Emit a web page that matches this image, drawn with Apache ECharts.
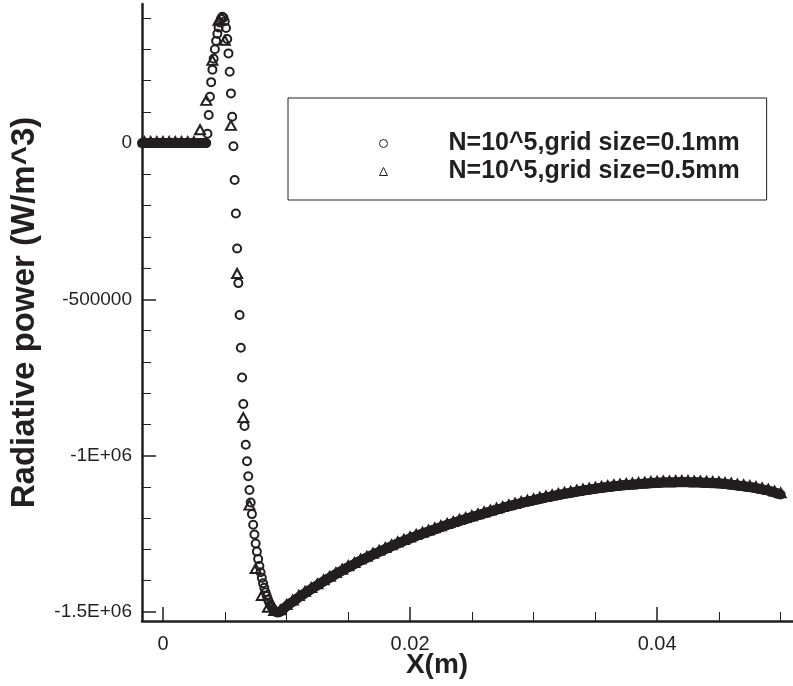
<!DOCTYPE html>
<html>
<head>
<meta charset="utf-8">
<script src="https://cdn.jsdelivr.net/npm/echarts@6/dist/echarts.min.js"></script>
<style>
html,body{margin:0;padding:0;background:#fff;}
#chart{width:793px;height:686px;}
</style>
</head>
<body>
<div id="chart"></div>
<script>
// Series 1: N=10^5, grid size = 0.1 mm  (x in m, value in W/m^3)
const xCircle = [
-17e-4,-16e-4,-15e-4,-14e-4,-13e-4,-12e-4,-11e-4,-10e-4,-9e-4,-8e-4,-7e-4,-6e-4,-5e-4,-4e-4,-3e-4,-2e-4,-1e-4,0,
1e-4,2e-4,3e-4,4e-4,5e-4,6e-4,7e-4,8e-4,9e-4,10e-4,
11e-4,12e-4,13e-4,14e-4,15e-4,16e-4,17e-4,18e-4,19e-4,20e-4,
21e-4,22e-4,23e-4,24e-4,25e-4,26e-4,27e-4,28e-4,29e-4,30e-4,
31e-4,32e-4,33e-4,34e-4,35e-4,36e-4,37e-4,38e-4,39e-4,40e-4,
41e-4,42e-4,43e-4,44e-4,45e-4,46e-4,47e-4,48e-4,49e-4,50e-4,
51e-4,52e-4,53e-4,54e-4,55e-4,56e-4,57e-4,58e-4,59e-4,60e-4,
61e-4,62e-4,63e-4,64e-4,65e-4,66e-4,67e-4,68e-4,69e-4,70e-4,
71e-4,72e-4,73e-4,74e-4,75e-4,76e-4,77e-4,78e-4,79e-4,80e-4,
81e-4,82e-4,83e-4,84e-4,85e-4,86e-4,87e-4,88e-4,89e-4,90e-4,
91e-4,92e-4,93e-4,94e-4,95e-4,96e-4,97e-4,98e-4,99e-4,100e-4,
101e-4,102e-4,103e-4,104e-4,105e-4,106e-4,107e-4,108e-4,109e-4,110e-4,
111e-4,112e-4,113e-4,114e-4,115e-4,116e-4,117e-4,118e-4,119e-4,120e-4,
121e-4,122e-4,123e-4,124e-4,125e-4,126e-4,127e-4,128e-4,129e-4,130e-4,
131e-4,132e-4,133e-4,134e-4,135e-4,136e-4,137e-4,138e-4,139e-4,140e-4,
141e-4,142e-4,143e-4,144e-4,145e-4,146e-4,147e-4,148e-4,149e-4,150e-4,
151e-4,152e-4,153e-4,154e-4,155e-4,156e-4,157e-4,158e-4,159e-4,160e-4,
161e-4,162e-4,163e-4,164e-4,165e-4,166e-4,167e-4,168e-4,169e-4,170e-4,
171e-4,172e-4,173e-4,174e-4,175e-4,176e-4,177e-4,178e-4,179e-4,180e-4,
181e-4,182e-4,183e-4,184e-4,185e-4,186e-4,187e-4,188e-4,189e-4,190e-4,
191e-4,192e-4,193e-4,194e-4,195e-4,196e-4,197e-4,198e-4,199e-4,200e-4,
201e-4,202e-4,203e-4,204e-4,205e-4,206e-4,207e-4,208e-4,209e-4,210e-4,
211e-4,212e-4,213e-4,214e-4,215e-4,216e-4,217e-4,218e-4,219e-4,220e-4,
221e-4,222e-4,223e-4,224e-4,225e-4,226e-4,227e-4,228e-4,229e-4,230e-4,
231e-4,232e-4,233e-4,234e-4,235e-4,236e-4,237e-4,238e-4,239e-4,240e-4,
241e-4,242e-4,243e-4,244e-4,245e-4,246e-4,247e-4,248e-4,249e-4,250e-4,
251e-4,252e-4,253e-4,254e-4,255e-4,256e-4,257e-4,258e-4,259e-4,260e-4,
261e-4,262e-4,263e-4,264e-4,265e-4,266e-4,267e-4,268e-4,269e-4,270e-4,
271e-4,272e-4,273e-4,274e-4,275e-4,276e-4,277e-4,278e-4,279e-4,280e-4,
281e-4,282e-4,283e-4,284e-4,285e-4,286e-4,287e-4,288e-4,289e-4,290e-4,
291e-4,292e-4,293e-4,294e-4,295e-4,296e-4,297e-4,298e-4,299e-4,300e-4,
301e-4,302e-4,303e-4,304e-4,305e-4,306e-4,307e-4,308e-4,309e-4,310e-4,
311e-4,312e-4,313e-4,314e-4,315e-4,316e-4,317e-4,318e-4,319e-4,320e-4,
321e-4,322e-4,323e-4,324e-4,325e-4,326e-4,327e-4,328e-4,329e-4,330e-4,
331e-4,332e-4,333e-4,334e-4,335e-4,336e-4,337e-4,338e-4,339e-4,340e-4,
341e-4,342e-4,343e-4,344e-4,345e-4,346e-4,347e-4,348e-4,349e-4,350e-4,
351e-4,352e-4,353e-4,354e-4,355e-4,356e-4,357e-4,358e-4,359e-4,360e-4,
361e-4,362e-4,363e-4,364e-4,365e-4,366e-4,367e-4,368e-4,369e-4,370e-4,
371e-4,372e-4,373e-4,374e-4,375e-4,376e-4,377e-4,378e-4,379e-4,380e-4,
381e-4,382e-4,383e-4,384e-4,385e-4,386e-4,387e-4,388e-4,389e-4,390e-4,
391e-4,392e-4,393e-4,394e-4,395e-4,396e-4,397e-4,398e-4,399e-4,400e-4,
401e-4,402e-4,403e-4,404e-4,405e-4,406e-4,407e-4,408e-4,409e-4,410e-4,
411e-4,412e-4,413e-4,414e-4,415e-4,416e-4,417e-4,418e-4,419e-4,420e-4,
421e-4,422e-4,423e-4,424e-4,425e-4,426e-4,427e-4,428e-4,429e-4,430e-4,
431e-4,432e-4,433e-4,434e-4,435e-4,436e-4,437e-4,438e-4,439e-4,440e-4,
441e-4,442e-4,443e-4,444e-4,445e-4,446e-4,447e-4,448e-4,449e-4,450e-4,
451e-4,452e-4,453e-4,454e-4,455e-4,456e-4,457e-4,458e-4,459e-4,460e-4,
461e-4,462e-4,463e-4,464e-4,465e-4,466e-4,467e-4,468e-4,469e-4,470e-4,
471e-4,472e-4,473e-4,474e-4,475e-4,476e-4,477e-4,478e-4,479e-4,480e-4,
481e-4,482e-4,483e-4,484e-4,485e-4,486e-4,487e-4,488e-4,489e-4,490e-4,
491e-4,492e-4,493e-4,494e-4,495e-4,496e-4,497e-4,498e-4,499e-4,500e-4
];
const yCircle = [
0,0,0,0,0,0,0,0,0,0,0,0,0,0,0,0,0,0,
0,0,0,0,0,0,0,0,0,0,
0,0,0,0,0,0,0,0,0,0,
0,0,0,0,0,0,0,0,0,0,
0,0,0,0,0,30e3,90e3,148e3,195e3,235e3,
270e3,300e3,327e3,350e3,370e3,386e3,398e3,404e3,401e3,390e3,
368e3,333e3,287e3,228e3,159e3,84e3,-10e3,-118e3,-225e3,-337e3,
-448e3,-550e3,-655e3,-750e3,-835e3,-905e3,-965e3,-1018e3,-1066e3,-1110e3,
-1150e3,-1187e3,-1221e3,-1252e3,-1281e3,-1307e3,-1331e3,-1353e3,-1373e3,-1391e3,
-1408e3,-1423e3,-1437e3,-1449e3,-1460e3,-1470e3,-1478e3,-1485e3,-1491e3,-1496e3,
-1499e3,-1501e3,-1502e3,-1501e3,-1499e3,-1496e3,-1493e3,-1489e3,-1485e3,-1482e3,
-1479e3,-1476e3,-1473e3,-1470e3,-1468e3,-1465e3,-1462e3,-1459e3,-1456e3,-1453e3,
-1450e3,-1448e3,-1445e3,-1443e3,-1440e3,-1437e3,-1435e3,-1432e3,-1430e3,-1427e3,
-1425e3,-1422e3,-1420e3,-1417e3,-1415e3,-1412e3,-1410e3,-1407e3,-1405e3,-1402e3,
-1400e3,-1397e3,-1395e3,-1393e3,-1391e3,-1388e3,-1386e3,-1384e3,-1381e3,-1379e3,
-1377e3,-1375e3,-1372e3,-1370e3,-1368e3,-1366e3,-1364e3,-1361e3,-1359e3,-1357e3,
-1355e3,-1353e3,-1351e3,-1349e3,-1347e3,-1344e3,-1342e3,-1340e3,-1338e3,-1336e3,
-1334e3,-1332e3,-1330e3,-1328e3,-1327e3,-1325e3,-1323e3,-1321e3,-1319e3,-1317e3,
-1315e3,-1313e3,-1312e3,-1310e3,-1308e3,-1306e3,-1304e3,-1303e3,-1301e3,-1299e3,
-1297e3,-1295e3,-1294e3,-1292e3,-1290e3,-1288e3,-1286e3,-1285e3,-1283e3,-1281e3,
-1279e3,-1278e3,-1276e3,-1275e3,-1273e3,-1271e3,-1270e3,-1268e3,-1267e3,-1265e3,
-1263e3,-1262e3,-1260e3,-1259e3,-1257e3,-1256e3,-1254e3,-1253e3,-1251e3,-1250e3,
-1249e3,-1247e3,-1246e3,-1244e3,-1243e3,-1242e3,-1240e3,-1239e3,-1237e3,-1236e3,
-1235e3,-1233e3,-1232e3,-1230e3,-1229e3,-1228e3,-1226e3,-1225e3,-1223e3,-1222e3,
-1221e3,-1219e3,-1218e3,-1217e3,-1216e3,-1214e3,-1213e3,-1212e3,-1210e3,-1209e3,
-1208e3,-1207e3,-1205e3,-1204e3,-1203e3,-1202e3,-1201e3,-1199e3,-1198e3,-1197e3,
-1196e3,-1195e3,-1193e3,-1192e3,-1191e3,-1190e3,-1189e3,-1187e3,-1186e3,-1185e3,
-1184e3,-1183e3,-1181e3,-1180e3,-1179e3,-1178e3,-1177e3,-1175e3,-1174e3,-1173e3,
-1172e3,-1171e3,-1170e3,-1169e3,-1168e3,-1166e3,-1165e3,-1164e3,-1163e3,-1162e3,
-1161e3,-1160e3,-1159e3,-1158e3,-1157e3,-1156e3,-1155e3,-1154e3,-1153e3,-1152e3,
-1151e3,-1150e3,-1149e3,-1148e3,-1147e3,-1147e3,-1146e3,-1145e3,-1144e3,-1143e3,
-1142e3,-1141e3,-1140e3,-1139e3,-1138e3,-1138e3,-1137e3,-1136e3,-1135e3,-1134e3,
-1133e3,-1132e3,-1132e3,-1131e3,-1130e3,-1129e3,-1128e3,-1128e3,-1127e3,-1126e3,
-1125e3,-1125e3,-1124e3,-1123e3,-1122e3,-1122e3,-1121e3,-1120e3,-1120e3,-1119e3,
-1118e3,-1118e3,-1117e3,-1116e3,-1115e3,-1115e3,-1114e3,-1113e3,-1113e3,-1112e3,
-1111e3,-1111e3,-1110e3,-1110e3,-1109e3,-1108e3,-1108e3,-1107e3,-1107e3,-1106e3,
-1105e3,-1105e3,-1104e3,-1104e3,-1103e3,-1103e3,-1102e3,-1102e3,-1101e3,-1101e3,
-1100e3,-1100e3,-1099e3,-1099e3,-1098e3,-1098e3,-1097e3,-1097e3,-1096e3,-1096e3,
-1096e3,-1095e3,-1095e3,-1095e3,-1094e3,-1094e3,-1094e3,-1093e3,-1093e3,-1093e3,
-1093e3,-1092e3,-1092e3,-1092e3,-1091e3,-1091e3,-1091e3,-1090e3,-1090e3,-1090e3,
-1090e3,-1089e3,-1089e3,-1089e3,-1088e3,-1088e3,-1088e3,-1087e3,-1087e3,-1087e3,
-1087e3,-1087e3,-1087e3,-1086e3,-1086e3,-1086e3,-1086e3,-1086e3,-1086e3,-1086e3,
-1086e3,-1086e3,-1086e3,-1086e3,-1086e3,-1085e3,-1085e3,-1085e3,-1085e3,-1085e3,
-1085e3,-1085e3,-1085e3,-1085e3,-1085e3,-1086e3,-1086e3,-1086e3,-1086e3,-1086e3,
-1086e3,-1086e3,-1086e3,-1086e3,-1086e3,-1087e3,-1087e3,-1087e3,-1087e3,-1087e3,
-1087e3,-1087e3,-1088e3,-1088e3,-1088e3,-1088e3,-1088e3,-1089e3,-1089e3,-1089e3,
-1089e3,-1090e3,-1090e3,-1091e3,-1091e3,-1091e3,-1092e3,-1092e3,-1093e3,-1093e3,
-1094e3,-1094e3,-1095e3,-1095e3,-1096e3,-1096e3,-1096e3,-1097e3,-1097e3,-1098e3,
-1099e3,-1099e3,-1100e3,-1100e3,-1101e3,-1101e3,-1102e3,-1103e3,-1103e3,-1104e3,
-1105e3,-1106e3,-1106e3,-1107e3,-1108e3,-1109e3,-1110e3,-1110e3,-1111e3,-1112e3,
-1113e3,-1114e3,-1116e3,-1117e3,-1118e3,-1119e3,-1120e3,-1122e3,-1123e3,-1124e3
];

// Series 2: N=10^5, grid size = 0.5 mm
const xTriangle = [
-15e-4,-10e-4,-5e-4,0,5e-4,10e-4,15e-4,20e-4,25e-4,30e-4,
35e-4,40e-4,45e-4,50e-4,55e-4,60e-4,65e-4,70e-4,75e-4,80e-4,
85e-4,90e-4,95e-4,100e-4,105e-4,110e-4,115e-4,120e-4,125e-4,130e-4,
135e-4,140e-4,145e-4,150e-4,155e-4,160e-4,165e-4,170e-4,175e-4,180e-4,
185e-4,190e-4,195e-4,200e-4,205e-4,210e-4,215e-4,220e-4,225e-4,230e-4,
235e-4,240e-4,245e-4,250e-4,255e-4,260e-4,265e-4,270e-4,275e-4,280e-4,
285e-4,290e-4,295e-4,300e-4,305e-4,310e-4,315e-4,320e-4,325e-4,330e-4,
335e-4,340e-4,345e-4,350e-4,355e-4,360e-4,365e-4,370e-4,375e-4,380e-4,
385e-4,390e-4,395e-4,400e-4,405e-4,410e-4,415e-4,420e-4,425e-4,430e-4,
435e-4,440e-4,445e-4,450e-4,455e-4,460e-4,465e-4,470e-4,475e-4,480e-4,
485e-4,490e-4,495e-4,500e-4
];
const yTriangle = [
0,0,0,0,0,0,0,0,0,38e3,
132e3,260e3,388e3,324e3,52e3,-422e3,-883e3,-1163e3,-1366e3,-1452e3,
-1490e3,-1500e3,-1498e3,-1481e3,-1467e3,-1452e3,-1439e3,-1427e3,-1415e3,-1402e3,
-1391e3,-1379e3,-1368e3,-1357e3,-1347e3,-1336e3,-1327e3,-1317e3,-1308e3,-1299e3,
-1290e3,-1281e3,-1273e3,-1265e3,-1257e3,-1250e3,-1243e3,-1236e3,-1229e3,-1222e3,
-1216e3,-1209e3,-1203e3,-1197e3,-1191e3,-1185e3,-1179e3,-1173e3,-1168e3,-1162e3,
-1157e3,-1152e3,-1147e3,-1143e3,-1138e3,-1134e3,-1130e3,-1126e3,-1122e3,-1119e3,
-1115e3,-1112e3,-1109e3,-1106e3,-1103e3,-1101e3,-1098e3,-1096e3,-1094e3,-1093e3,
-1091e3,-1090e3,-1088e3,-1087e3,-1086e3,-1086e3,-1085e3,-1085e3,-1085e3,-1086e3,
-1086e3,-1087e3,-1088e3,-1089e3,-1091e3,-1093e3,-1096e3,-1098e3,-1101e3,-1104e3,
-1108e3,-1112e3,-1118e3,-1124e3
];

const seriesNames = ['N=10^5,grid size=0.1mm', 'N=10^5,grid size=0.5mm'];

// Axis ticks and labels
const xMajorTicks = [0, 0.02, 0.04];
const xMajorLabels = ['0', '0.02', '0.04'];
const xMinorTicks = [0.005, 0.01, 0.015, 0.025, 0.03, 0.035, 0.045, 0.05];
const yMajorTicks = [-1500000, -1000000, -500000, 0];
const yMajorLabels = ['-1.5E+06', '-1E+06', '-500000', '0'];
const yMinorTicks = [-1400000, -1300000, -1200000, -1100000, -900000, -800000, -700000, -600000,
  -400000, -300000, -200000, -100000, 100000, 200000, 300000, 400000];
const xRange = [-0.0017, 0.051];
const yRange = [-1529000, 445000];

const FONT = "'Liberation Sans', Arial, Helvetica, sans-serif";
const INK = '#231f20';

const chart = echarts.init(document.getElementById('chart'), null, {renderer: 'canvas'});

function lookup(vals, labels) {
  return function (v) {
    for (let i = 0; i < vals.length; i++) {
      if (Math.abs(vals[i] - v) < 1e-9 * Math.max(1, Math.abs(v))) return labels[i];
    }
    return '';
  };
}

const option = {
  animation: false,
  backgroundColor: '#fff',
  grid: {left: 142, right: 0, top: 4, bottom: 65, containLabel: false, outerBoundsMode: 'none'},
  legend: {
    orient: 'vertical',
    left: 288,
    top: 98,
    padding: [33, 27, 16, 91],
    itemGap: 3,
    itemWidth: 8,
    itemHeight: 8,
    borderColor: INK,
    borderWidth: 1,
    backgroundColor: '#fff',
    data: seriesNames,
    itemStyle: {borderWidth: 1, color: 'rgba(0,0,0,0)', borderColor: INK},
    formatter: function (name) { return '{g|}{t|' + name + '}'; },
    textStyle: {
      rich: {
        g: {width: 56},
        t: {fontSize: 25, fontWeight: 'bold', fontFamily: FONT, color: INK, lineHeight: 24}
      }
    }
  },
  xAxis: [
    {
      type: 'value', min: xRange[0], max: xRange[1], position: 'bottom',
      name: 'X(m)', nameLocation: 'middle', nameGap: 30, nameMoveOverlap: false,
      nameTextStyle: {fontSize: 28, fontWeight: 'bold', fontFamily: FONT, color: INK, padding: [0, 61, 0, 0]},
      axisLine: {show: true, onZero: false, lineStyle: {color: INK, width: 2.5}},
      axisTick: {show: true, inside: true, length: 14, customValues: xMajorTicks, lineStyle: {color: INK, width: 1.5}},
      axisLabel: {show: true, customValues: xMajorTicks, formatter: lookup(xMajorTicks, xMajorLabels),
        margin: 13, fontSize: 20, fontFamily: FONT, color: INK},
      splitLine: {show: false}
    },
    {
      type: 'value', min: xRange[0], max: xRange[1], position: 'bottom',
      axisLine: {show: false, onZero: false},
      axisTick: {show: true, inside: true, length: 9, customValues: xMinorTicks, lineStyle: {color: INK, width: 1}},
      axisLabel: {show: false},
      splitLine: {show: false}
    }
  ],
  yAxis: [
    {
      type: 'value', min: yRange[0], max: yRange[1], position: 'left',
      name: 'Radiative power (W/m^3)', nameLocation: 'middle', nameRotate: 90, nameGap: 101, nameMoveOverlap: false,
      nameTextStyle: {fontSize: 33, fontWeight: 'bold', fontFamily: FONT, color: INK},
      axisLine: {show: true, onZero: false, lineStyle: {color: INK, width: 2.5}},
      axisTick: {show: true, inside: true, length: 14, customValues: yMajorTicks, lineStyle: {color: INK, width: 1.5}},
      axisLabel: {show: true, customValues: yMajorTicks, formatter: lookup(yMajorTicks, yMajorLabels),
        margin: 10, fontSize: 19, fontFamily: FONT, color: INK},
      splitLine: {show: false}
    },
    {
      type: 'value', min: yRange[0], max: yRange[1], position: 'left', offset: 0,
      axisLine: {show: false, onZero: false},
      axisTick: {show: true, inside: true, length: 9, customValues: yMinorTicks, lineStyle: {color: INK, width: 1}},
      axisLabel: {show: false},
      splitLine: {show: false}
    }
  ],
  series: [
    {
      name: seriesNames[0],
      type: 'scatter',
      xAxisIndex: 0, yAxisIndex: 0,
      symbol: 'circle',
      symbolSize: 8,
      itemStyle: {color: 'rgba(0,0,0,0)', borderColor: INK, borderWidth: 2, opacity: 1},
      emphasis: {disabled: true},
      data: xCircle.map((x, i) => [x, yCircle[i]]),
      z: 2
    },
    {
      name: seriesNames[1],
      type: 'scatter',
      xAxisIndex: 0, yAxisIndex: 0,
      symbol: 'triangle',
      symbolSize: [10, 9],
      symbolOffset: [0, -1.5],
      itemStyle: {color: 'rgba(0,0,0,0)', borderColor: INK, borderWidth: 2, opacity: 1},
      emphasis: {disabled: true},
      data: xTriangle.map((x, i) => [x, yTriangle[i]]),
      z: 3
    }
  ]
};
chart.setOption(option);
</script>
</body>
</html>
